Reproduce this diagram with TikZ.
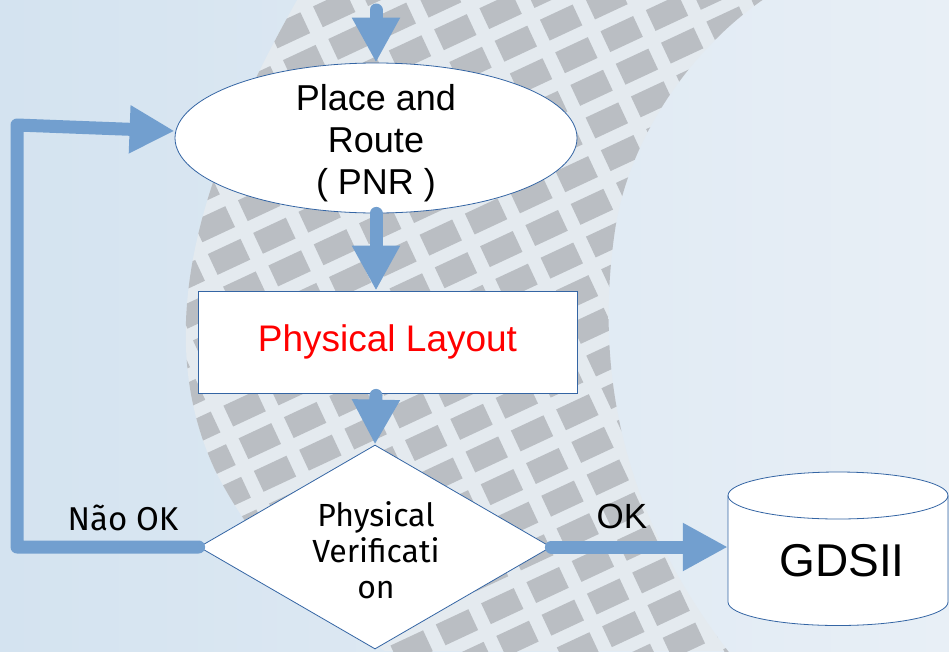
\documentclass[tikz,border=0pt]{standalone}
\usepackage{fontspec}
\setmainfont{Liberation Sans}
\newfontfamily\ubfont{Fira Sans}
\usetikzlibrary{shapes.geometric,arrows.meta}
\definecolor{flowblue}{HTML}{729FCF}
\definecolor{edgeblue}{HTML}{3465A4}
\definecolor{bgleft}{HTML}{D4E3F0}
\definecolor{bgmid}{HTML}{E4EDF5}
\definecolor{bgright}{HTML}{E8EFF6}
\definecolor{bandfill}{HTML}{E4EAEF}
\definecolor{chip}{HTML}{B3B7BC}
\begin{document}
\begin{tikzpicture}[x=1pt,y=-1pt,
  flow/.style={line width=13pt, draw=flowblue, line cap=round, line join=round,
    -{Triangle[length=45pt,width=45pt]}},
  shapebox/.style={draw=edgeblue, line width=0.8pt, fill=white, inner sep=0pt},
  lbl/.style={inner sep=0pt, text=black}]
\useasboundingbox (0,0) rectangle (949,651);
% background
\shade[left color=bgleft, middle color=bgmid, right color=bgright] (0,0) rectangle (949,651);
% wafer band
\begin{scope}
\clip (300,-5) .. controls (200,170) and (150,330) .. (215,470)
  .. controls (260,560) and (330,620) .. (400,660) -- (735,660)
  .. controls (640,540) and (590,400) .. (615,230)
  .. controls (630,130) and (700,40) .. (770,-5) -- cycle;
\fill[bandfill] (0,0) rectangle (949,651);
\begin{scope}[shift={(450,300)}, rotate=25]
\foreach \i in {-14,...,14}{
  \foreach \j in {-14,...,14}{
    \fill[chip, opacity=0.85] (\i*50, \j*36) rectangle ++(36,23);
  }
}
\end{scope}
\end{scope}
% nodes
\node[shapebox, ellipse, minimum width=402pt, minimum height=150pt] (pnr) at (376,138) {};
\node[lbl, align=center, font=\fontsize{36}{42}\selectfont] (pnrtext) at (376,143) {Place and\\Route\\( PNR )};
\node[shapebox, rectangle, minimum width=379pt, minimum height=102pt,
  text=red, font=\fontsize{37}{44}\selectfont] (layout) at (387.5,342) {\raisebox{-3pt}{Physical Layout}};
\node[shapebox, diamond, minimum width=352pt, minimum height=204pt, shape aspect=1.725] (pv) at (375,547) {};
\node[lbl, align=center, font=\ubfont\fontsize{32}{36}\selectfont] (pvtext) at (376,550) {Physical\\Verificati\\on};
% cylinder
\node[inner sep=0pt, minimum width=220pt, minimum height=153pt] (gds) at (838,548.5) {};
\filldraw[draw=edgeblue, line width=0.8pt, fill=white]
  (728,495.5) -- (728,602)
  .. controls (728,615) and (777.25,625.5) .. (838,625.5)
  .. controls (898.75,625.5) and (948,615) .. (948,602)
  -- (948,495.5) .. controls (948,482.5) and (898.75,472) .. (838,472)
  .. controls (777.25,472) and (728,482.5) .. (728,495.5) -- cycle;
\draw[edgeblue, line width=0.8pt] (728,495.5)
  .. controls (728,508.5) and (777.25,519) .. (838,519)
  .. controls (898.75,519) and (948,508.5) .. (948,495.5);
\node[lbl, font=\fontsize{46}{52}\selectfont] (gdstext) at (842,561) {GDSII};
% labels
\node[lbl, font=\ubfont\fontsize{33}{38}\selectfont] (nok) at (123,518) {Não OK};
\node[lbl, font=\fontsize{35}{40}\selectfont] (ok) at (622,516) {OK};
% connectors
\coordinate (topin) at (376,10);
\draw[flow] (topin) -- (pnr.north);
\draw[flow] (pnr.south) -- (layout.north -| pnr.south);
\draw[flow] ([yshift=-2pt]layout.south -| pnr.south) -- (pv.north);
\draw[flow] (pv.east) -- (gds.west |- pv.east);
\draw[flow] (pv.west) -- (17,547) -- (17,125) -- ([yshift=7pt]pnr.west);
\end{tikzpicture}
\end{document}
